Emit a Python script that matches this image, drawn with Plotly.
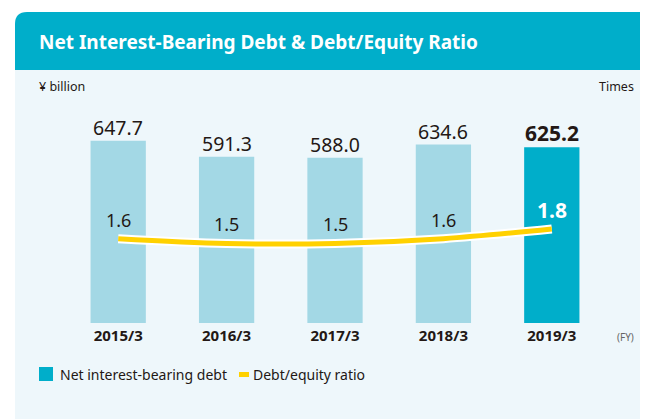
import plotly.graph_objects as go

years = ["2015/3", "2016/3", "2017/3", "2018/3", "2019/3"]
debt = [647.7, 591.3, 588.0, 634.6, 625.2]
ratio = [1.6, 1.5, 1.5, 1.6, 1.8]

TEAL = "#00AECA"
LIGHT = "#A3D8E5"
BG = "#EEF7FB"
YELLOW = "#FFD100"
DARK = "#231815"
FONT = "Noto Sans"

# the page body has an 8px margin; lay the figure out in page pixels
OX, OY = 8, 8
PAGE_W, PAGE_H = 648, 419
W, H = PAGE_W - OX, PAGE_H - OY
PL, PR, PT, PB = 64, 606, 98, 323  # plot area in page pixels
L, R, T, B = PL - OX, (OX + W) - PR, PT - OY, (OY + H) - PB
PW, PH = W - L - R, H - T - B


def px(x):
    return (x - PL) / PW


def py(y):
    return (PB - y) / PH


bar_colors = [LIGHT] * (len(years) - 1) + [TEAL]

fig = go.Figure()
fig.add_trace(go.Bar(x=years, y=debt, marker=dict(color=bar_colors, line=dict(width=0)),
                     width=0.51, hoverinfo="skip", showlegend=False))
fig.add_trace(go.Scatter(x=years, y=ratio, yaxis="y2", mode="lines",
                         line=dict(color="white", width=9, shape="spline", smoothing=1.0),
                         hoverinfo="skip", showlegend=False))
fig.add_trace(go.Scatter(x=years, y=ratio, yaxis="y2", mode="lines",
                         line=dict(color=YELLOW, width=5, shape="spline", smoothing=1.0),
                         hoverinfo="skip", showlegend=False))

shapes = [
    dict(type="rect", xref="paper", yref="paper", x0=px(15), x1=px(PAGE_W + 5), y0=py(PAGE_H + 5), y1=py(70),
         fillcolor=BG, line=dict(width=0), layer="below"),
    dict(type="path", xref="paper", yref="paper",
         path=f"M {px(15)} {py(70)} L {px(15)} {py(24)} Q {px(15)} {py(12)} {px(27)} {py(12)} "
              f"L {px(PAGE_W + 5)} {py(12)} L {px(PAGE_W + 5)} {py(70)} Z",
         fillcolor=TEAL, line=dict(width=0), layer="below"),
    dict(type="rect", xref="paper", yref="paper", x0=px(39), x1=px(53), y0=py(381), y1=py(367),
         fillcolor=TEAL, line=dict(width=0)),
    dict(type="rect", xref="paper", yref="paper", x0=px(239), x1=px(249), y0=py(377), y1=py(372),
         fillcolor=YELLOW, line=dict(width=0)),
]

ann = []
ann.append(dict(text="<b>Net Interest-Bearing Debt &amp; Debt/Equity Ratio</b>", xref="paper", yref="paper",
                x=px(37), y=py(42), xanchor="left", yanchor="middle", showarrow=False,
                font=dict(family=FONT, size=19, color="white")))
ann.append(dict(text="¥ billion", xref="paper", yref="paper", x=px(37), y=py(86), xanchor="left",
                yanchor="middle", showarrow=False, font=dict(family=FONT, size=12.5, color=DARK)))
ann.append(dict(text="Times", xref="paper", yref="paper", x=px(636), y=py(86), xanchor="right",
                yanchor="middle", showarrow=False, font=dict(family=FONT, size=12.5, color=DARK)))
ann.append(dict(text="(FY)", xref="paper", yref="paper", x=px(625), y=py(337), xanchor="center",
                yanchor="middle", showarrow=False, font=dict(family=FONT, size=10, color="#666666")))
ann.append(dict(text="Net interest-bearing debt", xref="paper", yref="paper", x=px(58), y=py(374),
                xanchor="left", yanchor="middle", showarrow=False, font=dict(family=FONT, size=14, color=DARK)))
ann.append(dict(text="Debt/equity ratio", xref="paper", yref="paper", x=px(251), y=py(374),
                xanchor="left", yanchor="middle", showarrow=False, font=dict(family=FONT, size=14, color=DARK)))

for i, (yr, v) in enumerate(zip(years, debt)):
    last = i == len(years) - 1
    ann.append(dict(text=(f"<b>{v:.1f}</b>" if last else f"{v:.1f}"), x=yr, y=v, xref="x", yref="y",
                    xanchor="center", yanchor="middle", yshift=(14 if last else 13), showarrow=False,
                    font=dict(family=FONT, size=(21 if last else 19.5), color=DARK)))
for i, (yr, r) in enumerate(zip(years, ratio)):
    last = i == len(years) - 1
    ann.append(dict(text=(f"<b>{r:.1f}</b>" if last else f"{r:.1f}"), x=yr, y=r, xref="x", yref="y2",
                    xanchor="center", yanchor="middle", yshift=19, showarrow=False,
                    font=dict(family=FONT, size=(21 if last else 18), color=("white" if last else DARK))))

fig.update_layout(
    width=W, height=H,
    margin=dict(l=L, r=R, t=T, b=B, pad=0),
    paper_bgcolor="white", plot_bgcolor="rgba(0,0,0,0)",
    showlegend=False,
    xaxis=dict(type="category", range=[-0.5, 4.5], showgrid=False, zeroline=False, showline=False,
               ticks="", tickfont=dict(family=FONT, size=15, color=DARK, weight="bold"),
               ticklabelstandoff=2),
    yaxis=dict(range=[0, 800], visible=False, fixedrange=True),
    yaxis2=dict(range=[-0.146, 4.512], overlaying="y", side="right", visible=False),
    shapes=shapes,
    annotations=ann,
)

fig.write_html("out.html")
